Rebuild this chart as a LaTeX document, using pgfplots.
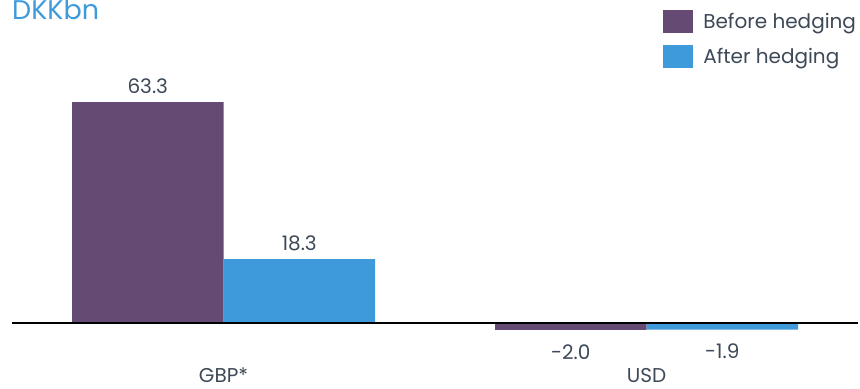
\documentclass[border=0pt]{standalone}
\usepackage{fontspec}
\setmainfont{Poppins}
\usepackage{pgfplots}
\pgfplotsset{compat=1.18}
\definecolor{bpurple}{HTML}{654A74}
\definecolor{bblue}{HTML}{3F9ADC}
\definecolor{txt}{HTML}{3D4957}
\begin{document}
\begin{tikzpicture}
\useasboundingbox (0,0) rectangle (860bp,389bp);
\node[anchor=base west, text=bblue, font=\fontsize{27bp}{30bp}\selectfont, inner sep=0pt] at (12bp,369.5bp) {DKKbn};
\begin{axis}[
  at={(12bp,29bp)}, anchor=south west,
  scale only axis, width=846bp, height=360bp,
  xmin=-0.5, xmax=1.5, ymin=-10.6, ymax=92.55,
  ybar=0pt, bar width=151.5bp,
  axis x line=bottom, x axis line style={draw=none, -},
  hide y axis,
  major tick length=0pt,
  xtick={0,1}, xticklabels={GBP*,USD},
  ytick=\empty,
  /pgf/number format/assume math mode=true,
  xticklabel style={font=\fontsize{20bp}{24bp}\selectfont, text=txt, anchor=base, yshift=-23bp},
  visualization depends on={y \as \rawy},
  nodes near coords={\pgfmathprintnumber[fixed,fixed zerofill,precision=1]{\pgfplotspointmeta}},
  every node near coord/.append style={font=\fontsize{20bp}{24bp}\selectfont, text=txt,
    yshift={ifthenelse(\rawy<0,-11,5)}},
  legend style={at={(1,1)}, anchor=north east, draw=none, fill=none,
    font=\fontsize{20bp}{24bp}\selectfont, text=txt,
    inner sep=0pt, outer sep=0pt, row sep=12bp, yshift=-10bp,
    /tikz/every odd column/.append style={column sep=8bp}},
  legend cell align=left,
  legend image code/.code={\fill[#1,draw=none] (0bp,-11.5bp) rectangle (30bp,11.5bp);},
  clip=false,
]
\addplot[fill=bpurple, draw=none] coordinates {(0,63.3) (1,-2.0)};
\addplot[fill=bblue, draw=none] coordinates {(0,18.3) (1,-1.9)};
\legend{Before hedging, After hedging}
\draw[black, line width=1.5bp] (axis cs:-0.5,0) -- (axis cs:1.5,0);
\end{axis}
\end{tikzpicture}
\end{document}
